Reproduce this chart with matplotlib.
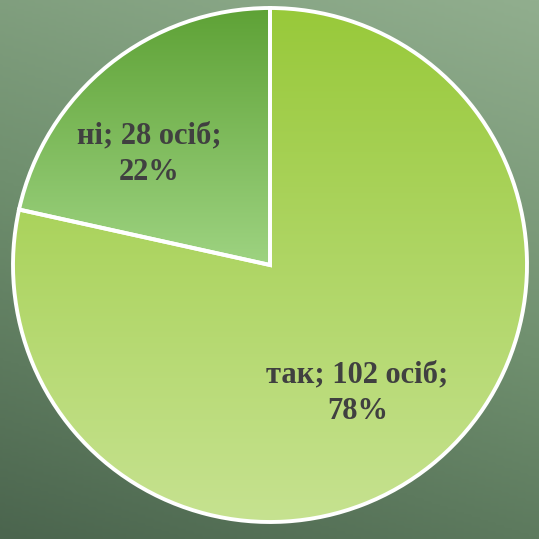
import numpy as np
import matplotlib.pyplot as plt
from matplotlib.colors import LinearSegmentedColormap

labels = ["так", "ні"]
counts = [102, 28]
percents = [78, 22]
top_colors = ["#98c93a", "#5ea236"]
bottom_colors = ["#c6e290", "#9ed381"]

fig = plt.figure(figsize=(5.39, 5.39), dpi=100)

# background gradient
bg = fig.add_axes([0, 0, 1, 1])
yy, xx = np.mgrid[0:1:200j, 0:1:200j]
t = 0.75 * yy + 0.25 * xx
bg_cmap = LinearSegmentedColormap.from_list("bg", ["#4b654e", "#6f8f6e", "#91ae8e"])
bg.imshow(t, cmap=bg_cmap, origin="lower", extent=[0, 1, 0, 1], aspect="auto")
bg.axis("off")

ax = fig.add_axes([0, 0, 1, 1])
ax.patch.set_alpha(0)

wedges, _ = ax.pie(counts, startangle=90, counterclock=False,
                   wedgeprops=dict(facecolor="none", edgecolor="white", linewidth=2.8))

for w, c0, c1 in zip(wedges, top_colors, bottom_colors):
    cmap = LinearSegmentedColormap.from_list("g", [c1, c0])
    ymin = -1 if abs(w.theta2 - w.theta1) > 180 else 0
    grad = np.linspace(0, 1, 256).reshape(-1, 1)
    im = ax.imshow(grad, cmap=cmap, origin="lower", extent=[-1, 1, ymin, 1],
                   aspect="auto", zorder=0.5)
    im.set_clip_path(w)
    w.set_zorder(2)

label_pos = [(0.34, -0.50), (-0.47, 0.43)]
for (x, y), lab, n, p in zip(label_pos, labels, counts, percents):
    ax.text(x, y, f"{lab}; {n} осіб;\n{p}%", ha="center", va="center",
            fontsize=22, fontweight="bold", family="Liberation Serif",
            color="#404040", linespacing=1.35, zorder=3)

cx, cy, r = 270, 265, 257
ax.set_xlim(-cx / r, (539 - cx) / r)
ax.set_ylim(-(539 - cy) / r, cy / r)
ax.set_aspect("equal")
ax.axis("off")

fig.savefig("out.png", dpi=100)
